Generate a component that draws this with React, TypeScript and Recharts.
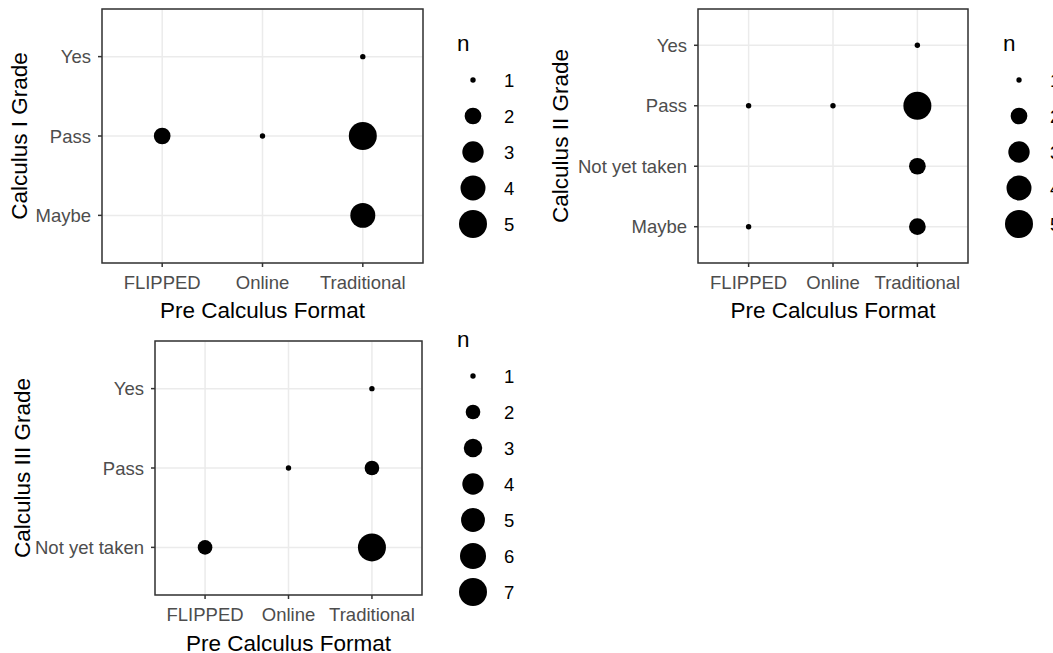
import React from 'react';
import {
  ScatterChart,
  Scatter,
  XAxis,
  YAxis,
  CartesianGrid,
  ReferenceArea,
  Label
} from 'recharts';

const FONT = '"Liberation Sans", Arial, sans-serif';

// x categories shared by all three panels
const formats = ['FLIPPED', 'Online', 'Traditional'];

// Calculus I (grades listed bottom to top)
const calc1Grades = ['Maybe', 'Pass', 'Yes'];
const calc1Counts = [
  { format: 'FLIPPED', grade: 'Pass', n: 2 },
  { format: 'Online', grade: 'Pass', n: 1 },
  { format: 'Traditional', grade: 'Yes', n: 1 },
  { format: 'Traditional', grade: 'Pass', n: 5 },
  { format: 'Traditional', grade: 'Maybe', n: 4 }
];
const calc1Legend = [1, 2, 3, 4, 5];

// Calculus II
const calc2Grades = ['Maybe', 'Not yet taken', 'Pass', 'Yes'];
const calc2Counts = [
  { format: 'FLIPPED', grade: 'Pass', n: 1 },
  { format: 'FLIPPED', grade: 'Maybe', n: 1 },
  { format: 'Online', grade: 'Pass', n: 1 },
  { format: 'Traditional', grade: 'Yes', n: 1 },
  { format: 'Traditional', grade: 'Pass', n: 5 },
  { format: 'Traditional', grade: 'Not yet taken', n: 2 },
  { format: 'Traditional', grade: 'Maybe', n: 2 }
];
const calc2Legend = [1, 2, 3, 4, 5];

// Calculus III
const calc3Grades = ['Not yet taken', 'Pass', 'Yes'];
const calc3Counts = [
  { format: 'FLIPPED', grade: 'Not yet taken', n: 2 },
  { format: 'Online', grade: 'Pass', n: 1 },
  { format: 'Traditional', grade: 'Yes', n: 1 },
  { format: 'Traditional', grade: 'Pass', n: 2 },
  { format: 'Traditional', grade: 'Not yet taken', n: 7 }
];
const calc3Legend = [1, 2, 3, 4, 5, 6, 7];

// ggplot-like size scale: diameter grows with sqrt of rescaled n
function dotRadius(n: number, max: number) {
  const t = max > 1 ? (n - 1) / (max - 1) : 0;
  return (5.4 + 22.6 * Math.sqrt(t)) / 2;
}

type PanelProps = {
  grades: string[];
  counts: { format: string; grade: string; n: number }[];
  legend: number[];
  yTitle: string;
  left: number;
  top: number;
  width: number;
  height: number;
  marginTop: number;
  marginRight: number;
  yAxisWidth: number;
  xAxisHeight: number;
  yTitleBaseline: number;
  xTitleOffset: number;
  legendLeft: number;
  legendTop: number;
};

function SizeLegend({ values, left, top }: { values: number[]; left: number; top: number }) {
  const max = values[values.length - 1];
  const rowH = 36;
  return (
    <svg
      style={{ position: 'absolute', left, top, overflow: 'visible' }}
      width={70}
      height={40 + values.length * rowH}
    >
      <text x={0} y={21} fontSize={22.5} fontFamily={FONT} fill="#000">n</text>
      {values.map((v, i) => (
        <g key={v}>
          <circle cx={16} cy={50 + i * rowH} r={dotRadius(v, max)} fill="#000" />
          <text
            x={47}
            y={50 + i * rowH}
            dy="0.36em"
            fontSize={18.5}
            fontFamily={FONT}
            fill="#000"
          >
            {v}
          </text>
        </g>
      ))}
    </svg>
  );
}

function GradePanel(p: PanelProps) {
  const max = p.legend[p.legend.length - 1];
  const data = p.counts.map(d => ({
    x: formats.indexOf(d.format),
    y: p.grades.indexOf(d.grade),
    n: d.n
  }));
  const yTop = p.grades.length - 0.4;
  const tickStyle = { fill: '#4D4D4D', fontSize: 18.5, fontFamily: FONT };

  return (
    <>
      <div style={{ position: 'absolute', left: p.left, top: p.top }}>
        <ScatterChart
          width={p.width}
          height={p.height}
          margin={{ top: p.marginTop, right: p.marginRight, bottom: 0, left: 0 }}
        >
          <CartesianGrid stroke="#EBEBEB" strokeWidth={1.5} />
          <XAxis
            type="number"
            dataKey="x"
            domain={[-0.6, 2.6]}
            ticks={[0, 1, 2]}
            interval={0}
            tickFormatter={(i: number) => formats[i]}
            height={p.xAxisHeight}
            axisLine={false}
            tickLine={{ stroke: '#333333', strokeWidth: 1.5 }}
            tickSize={4}
            tickMargin={9}
            tick={tickStyle}
            allowDataOverflow
          >
            <Label
              content={({ viewBox }: any) => (
                <text
                  x={viewBox.x + viewBox.width / 2}
                  y={viewBox.y + p.xTitleOffset}
                  textAnchor="middle"
                  fontSize={22.5}
                  fontFamily={FONT}
                  fill="#000"
                >
                  Pre Calculus Format
                </text>
              )}
            />
          </XAxis>
          <YAxis
            type="number"
            dataKey="y"
            domain={[-0.6, yTop]}
            ticks={p.grades.map((_, i) => i)}
            interval={0}
            tickFormatter={(i: number) => p.grades[i]}
            width={p.yAxisWidth}
            axisLine={false}
            tickLine={{ stroke: '#333333', strokeWidth: 1.5 }}
            tickSize={4}
            tickMargin={7}
            tick={tickStyle}
            allowDataOverflow
          >
            <Label
              content={({ viewBox }: any) => {
                const cx = p.yTitleBaseline;
                const cy = viewBox.y + viewBox.height / 2;
                return (
                  <text
                    x={cx}
                    y={cy}
                    transform={`rotate(-90, ${cx}, ${cy})`}
                    textAnchor="middle"
                    fontSize={22.5}
                    fontFamily={FONT}
                    fill="#000"
                  >
                    {p.yTitle}
                  </text>
                );
              }}
            />
          </YAxis>
          <Scatter
            data={data}
            isAnimationActive={false}
            shape={(props: any) => (
              <circle cx={props.cx} cy={props.cy} r={dotRadius(props.payload.n, max)} fill="#000" />
            )}
          />
          <ReferenceArea
            x1={-0.6}
            x2={2.6}
            y1={-0.6}
            y2={yTop}
            fill="none"
            fillOpacity={0}
            stroke="#333333"
            strokeWidth={1.5}
            ifOverflow="visible"
          />
        </ScatterChart>
      </div>
      <SizeLegend values={p.legend} left={p.legendLeft} top={p.legendTop} />
    </>
  );
}

export default function App() {
  return (
    <div
      style={{
        position: 'absolute',
        left: 0,
        top: 0,
        width: 1053,
        height: 653,
        overflow: 'hidden',
        background: '#fff',
        fontFamily: FONT
      }}
    >
      <GradePanel
        grades={calc1Grades}
        counts={calc1Counts}
        legend={calc1Legend}
        yTitle="Calculus I Grade"
        left={0}
        top={0}
        width={445}
        height={325}
        marginTop={9}
        marginRight={22}
        yAxisWidth={102}
        xAxisHeight={62}
        yTitleBaseline={27}
        xTitleOffset={55}
        legendLeft={457}
        legendTop={30}
      />
      <GradePanel
        grades={calc2Grades}
        counts={calc2Counts}
        legend={calc2Legend}
        yTitle="Calculus II Grade"
        left={530}
        top={0}
        width={460}
        height={325}
        marginTop={9}
        marginRight={22}
        yAxisWidth={168}
        xAxisHeight={62}
        yTitleBaseline={38}
        xTitleOffset={55}
        legendLeft={1003}
        legendTop={30}
      />
      <GradePanel
        grades={calc3Grades}
        counts={calc3Counts}
        legend={calc3Legend}
        yTitle="Calculus III Grade"
        left={0}
        top={325}
        width={445}
        height={328}
        marginTop={16}
        marginRight={23}
        yAxisWidth={155}
        xAxisHeight={58}
        yTitleBaseline={30}
        xTitleOffset={56}
        legendLeft={457}
        legendTop={326}
      />
    </div>
  );
}
